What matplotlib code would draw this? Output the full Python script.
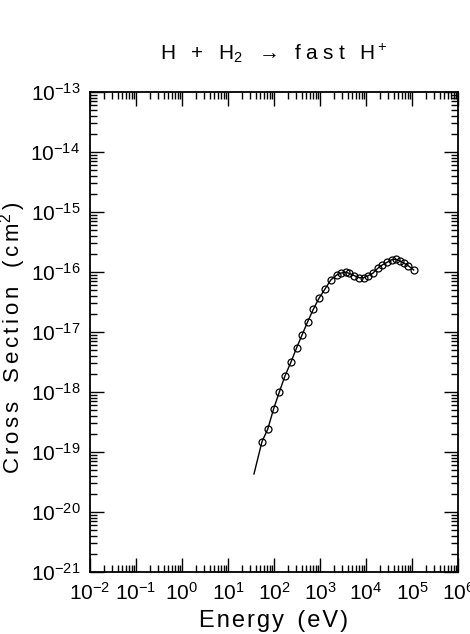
import matplotlib
matplotlib.use('Agg')
import matplotlib.pyplot as plt
from matplotlib.ticker import LogLocator, NullFormatter, LogFormatterMathtext

# measured points (energy in eV, cross section in cm^2)
energy = [54.8, 72.9, 98.4, 130, 173, 234, 311, 406, 541, 715, 951, 1285,
          1735, 2306, 2862, 3622, 4270, 5570, 7150, 9050, 11220, 14000,
          17960, 22570, 28640, 36250, 44200, 54100, 66100, 83200, 108900]
sigma = [1.49e-19, 2.39e-19, 5.27e-19, 9.9e-19, 1.85e-18, 3.16e-18,
         5.47e-18, 8.9e-18, 1.49e-17, 2.39e-17, 3.65e-17, 5.21e-17,
         7.44e-17, 8.9e-17, 9.6e-17, 9.9e-17, 9.5e-17, 8.7e-17, 8.03e-17,
         8.03e-17, 8.7e-17, 9.5e-17, 1.15e-16, 1.31e-16, 1.45e-16, 1.6e-16,
         1.63e-16, 1.54e-16, 1.41e-16, 1.27e-16, 1.08e-16]

# fitted curve
fit_energy = [36.7] + energy
fit_sigma = [4.3e-20] + sigma

plt.rcParams['font.family'] = ['Liberation Sans', 'DejaVu Sans']
plt.rcParams['mathtext.fontset'] = 'custom'
plt.rcParams['mathtext.rm'] = 'Liberation Sans'
plt.rcParams['mathtext.default'] = 'regular'

HS = '\u200a'  # hair space, to spread the letters a little


def spread(s, n=1):
    return (HS * n).join(s)


fig = plt.figure(figsize=(4.70, 6.34), dpi=100)
ax = fig.add_axes([90 / 470, 1 - 572 / 634, 368 / 470, 480 / 634])

ax.plot(fit_energy, fit_sigma, color='black', linewidth=1.0)
ax.plot(energy, sigma, linestyle='none', marker='o', markersize=5,
        markerfacecolor='none', markeredgecolor='black', markeredgewidth=0.9)

ax.set_xscale('log')
ax.set_yscale('log')
ax.set_xlim(1e-2, 1e6)
ax.set_ylim(1e-21, 1e-13)

for axis in (ax.xaxis, ax.yaxis):
    axis.set_major_locator(LogLocator(base=10, numticks=20))
    axis.set_minor_locator(LogLocator(base=10, subs=range(2, 10), numticks=20))
    axis.set_major_formatter(LogFormatterMathtext())
    axis.set_minor_formatter(NullFormatter())

ax.tick_params(which='both', direction='in', top=True, right=True,
               width=1.0, labelsize=15)
ax.tick_params(which='major', length=10, pad=7)
ax.tick_params(which='minor', length=5)
for s in ax.spines.values():
    s.set_linewidth(1.3)

ax.set_xlabel(spread('Energy') + '  ' + spread('(eV)'), fontsize=17)
ax.set_ylabel(spread('Cross', 2) + '   ' + spread('Section', 2) + '   '
              + spread('(cm', 2) + '$^2$' + HS * 2 + ')', fontsize=16)
ax.xaxis.set_label_coords(0.5, -0.08)
ax.yaxis.set_label_coords(-0.168, 0.4875)
gap = HS * 9
ax.set_title('H' + gap + '+' + gap + 'H$_2$' + gap + '\u2192'
             + gap + spread('fast', 3) + gap + 'H$^+$',
             fontsize=15, pad=23)

fig.savefig('out.png', dpi=100)
